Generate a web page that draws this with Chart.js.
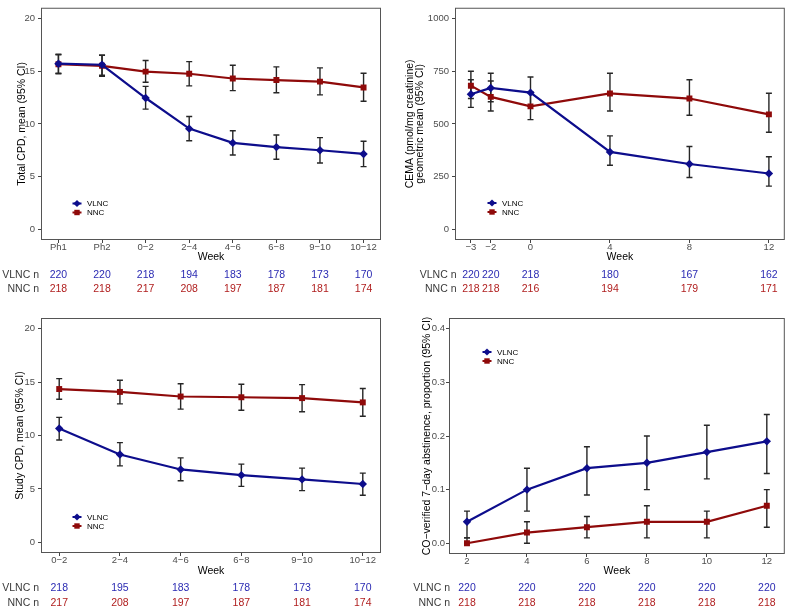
<!DOCTYPE html>
<html>
<head>
<meta charset="utf-8">
<script src="https://cdn.jsdelivr.net/npm/chart.js@4.4.1/dist/chart.umd.min.js"></script>
<style>
  html, body { margin: 0; padding: 0; background: #fff; }
  #wrap { position: relative; width: 789px; height: 613px; background: #fff; }
  canvas { position: absolute; }
</style>
</head>
<body>
<div id="wrap">
  <canvas id="c1" width="395" height="310" style="left:0;top:0;width:395px;height:310px"></canvas>
  <canvas id="c2" width="394" height="310" style="left:395px;top:0;width:394px;height:310px"></canvas>
  <canvas id="c3" width="395" height="303" style="left:0;top:310px;width:395px;height:303px"></canvas>
  <canvas id="c4" width="394" height="303" style="left:395px;top:310px;width:394px;height:303px"></canvas>
</div>
<script>
// ---------- Panel 1: Total CPD ----------
const totalWeeks = ['Ph1', 'Ph2', '0\u22122', '2\u22124', '4\u22126', '6\u22128', '9\u221210', '10\u221212'];
const totalVlnc   = [15.7, 15.6, 12.45, 9.55, 8.2, 7.8, 7.5, 7.15];
const totalVlncLo = [14.8, 14.6, 11.4, 8.4, 7.05, 6.65, 6.3, 5.95];
const totalVlncHi = [16.6, 16.5, 13.55, 10.7, 9.35, 8.95, 8.7, 8.35];
const totalNnc    = [15.65, 15.5, 14.95, 14.75, 14.3, 14.15, 14.0, 13.45];
const totalNncLo  = [14.75, 14.5, 13.95, 13.6, 13.15, 12.95, 12.75, 12.15];
const totalNncHi  = [16.55, 16.5, 16.0, 15.9, 15.55, 15.4, 15.3, 14.8];
const totalNVlnc  = [220, 220, 218, 194, 183, 178, 173, 170];
const totalNNnc   = [218, 218, 217, 208, 197, 187, 181, 174];
const cpdTicks    = [0, 5, 10, 15, 20];

// ---------- Panel 2: CEMA ----------
const cemaWeeks  = [-3, -2, 0, 4, 8, 12];
const cemaVlnc   = [640, 670, 648, 367, 310, 265];
const cemaVlncLo = [578, 605, 583, 304, 246, 205];
const cemaVlncHi = [709, 740, 722, 443, 393, 344];
const cemaNnc    = [681, 628, 583, 644, 620, 545];
const cemaNncLo  = [620, 561, 520, 561, 541, 460];
const cemaNncHi  = [749, 703, 652, 740, 709, 645];
const cemaNVlnc  = [220, 220, 218, 180, 167, 162];
const cemaNNnc   = [218, 218, 216, 194, 179, 171];
const cemaTicks  = [0, 250, 500, 750, 1000];

// ---------- Panel 3: Study CPD ----------
const studyWeeks  = ['0\u22122', '2\u22124', '4\u22126', '6\u22128', '9\u221210', '10\u221212'];
const studyVlnc   = [10.65, 8.22, 6.82, 6.29, 5.89, 5.46];
const studyVlncLo = [9.58, 7.16, 5.77, 5.24, 4.84, 4.4];
const studyVlncHi = [11.7, 9.33, 7.91, 7.32, 6.95, 6.48];
const studyNnc    = [14.35, 14.08, 13.65, 13.58, 13.5, 13.1];
const studyNncLo  = [13.4, 12.96, 12.47, 12.37, 12.22, 11.8];
const studyNncHi  = [15.32, 15.17, 14.85, 14.8, 14.76, 14.4];
const studyNVlnc  = [218, 195, 183, 178, 173, 170];
const studyNNnc   = [217, 208, 197, 187, 181, 174];

// ---------- Panel 4: CO-verified abstinence ----------
const absWeeks  = [2, 4, 6, 8, 10, 12];
const absVlnc   = [0.04, 0.10, 0.14, 0.15, 0.17, 0.19];
const absVlncLo = [0.01, 0.06, 0.09, 0.10, 0.12, 0.13];
const absVlncHi = [0.06, 0.14, 0.18, 0.20, 0.22, 0.24];
const absNnc    = [0.00, 0.02, 0.03, 0.04, 0.04, 0.07];
const absNncLo  = [0.00, 0.00, 0.01, 0.01, 0.01, 0.03];
const absNncHi  = [0.01, 0.04, 0.05, 0.07, 0.06, 0.10];
const absNVlnc  = [220, 220, 220, 220, 220, 220];
const absNNnc   = [218, 218, 218, 218, 218, 218];
const absTicks  = [0, 0.1, 0.2, 0.3, 0.4];

// ---------- styling ----------
const BLUE = '#0d0d8c';
const RED = '#8f0a0a';
const BLUE_TXT = '#2b2bb3';
const RED_TXT = '#b01e1e';
const FONT = '"Liberation Sans", Arial, sans-serif';
Chart.defaults.font.family = FONT;

function drawMarker(ctx, style, x, y, r, color) {
  ctx.save();
  ctx.fillStyle = color;
  ctx.beginPath();
  if (style === 'rectRot') {
    ctx.moveTo(x, y - r); ctx.lineTo(x + r, y); ctx.lineTo(x, y + r); ctx.lineTo(x - r, y);
  } else {
    ctx.rect(x - r * 0.75, y - r * 0.75, r * 1.5, r * 1.5);
  }
  ctx.closePath();
  ctx.fill();
  ctx.restore();
}

function makePanel(id, o) {
  const canvas = document.getElementById(id);
  const W = canvas.width, H = canvas.height;
  const ds = (label, vals, lo, hi, color, style, radius) => ({
    label,
    data: o.xs.map((x, i) => ({ x: x, y: vals[i], lo: lo[i], hi: hi[i] })),
    borderColor: color, backgroundColor: color, borderWidth: 2.2,
    pointStyle: style, pointRadius: radius, pointBorderWidth: 0,
    pointHoverRadius: radius, tension: 0, fill: false
  });

  const panelPlugin = {
    id: 'panelPlugin' + id,
    beforeDatasetsDraw(chart) {
      const ctx = chart.ctx, xs = chart.scales.x, ys = chart.scales.y;
      ctx.save();
      ctx.strokeStyle = '#262626';
      ctx.lineWidth = 1.4;
      chart.data.datasets.forEach(d => {
        d.data.forEach(p => {
          const px = xs.getPixelForValue(p.x);
          const yl = ys.getPixelForValue(p.lo), yh = ys.getPixelForValue(p.hi);
          ctx.beginPath();
          ctx.moveTo(px, yl); ctx.lineTo(px, yh);
          ctx.moveTo(px - 3, yl); ctx.lineTo(px + 3, yl);
          ctx.moveTo(px - 3, yh); ctx.lineTo(px + 3, yh);
          ctx.stroke();
        });
      });
      ctx.restore();
    },
    afterDraw(chart) {
      const ctx = chart.ctx, a = chart.chartArea, xs = chart.scales.x;
      ctx.save();
      // panel border
      ctx.strokeStyle = '#555';
      ctx.lineWidth = 1;
      ctx.strokeRect(a.left + 0.5, a.top + 0.5, a.right - a.left - 1, a.bottom - a.top - 1);
      // x title
      ctx.fillStyle = '#000';
      ctx.font = '10.5px ' + FONT;
      ctx.textAlign = 'center';
      ctx.textBaseline = 'middle';
      ctx.fillText('Week', (a.left + a.right) / 2, o.weekY);
      // y title
      ctx.save();
      ctx.translate(o.yTitleX, (a.top + a.bottom) / 2);
      ctx.rotate(-Math.PI / 2);
      const lines = o.yTitle;
      lines.forEach((t, i) => {
        ctx.fillText(t, 0, (i - (lines.length - 1) / 2) * 10.5);
      });
      ctx.restore();
      // legend
      ctx.font = '8px ' + FONT;
      ctx.textAlign = 'left';
      const lg = o.legend;
      [['VLNC', BLUE, 'rectRot', 3.6], ['NNC', RED, 'rect', 3.6]].forEach((e, i) => {
        const y = lg.y + i * 9;
        ctx.strokeStyle = e[1];
        ctx.lineWidth = 2;
        ctx.beginPath(); ctx.moveTo(lg.x - 4.5, y); ctx.lineTo(lg.x + 4.5, y); ctx.stroke();
        drawMarker(ctx, e[2], lg.x, y, e[3], e[1]);
        ctx.fillStyle = '#000';
        ctx.fillText(e[0], lg.x + 10, y + 0.5);
      });
      // n table
      ctx.font = '10.5px ' + FONT;
      ctx.textAlign = 'right';
      ctx.fillStyle = '#3a3a3a';
      ctx.fillText('VLNC n', o.nLabelX, o.nY[0]);
      ctx.fillText('NNC n', o.nLabelX, o.nY[1]);
      ctx.textAlign = 'center';
      o.xs.forEach((x, i) => {
        const px = xs.getPixelForValue(x);
        ctx.fillStyle = BLUE_TXT;
        ctx.fillText(String(o.nV[i]), px, o.nY[0]);
        ctx.fillStyle = RED_TXT;
        ctx.fillText(String(o.nN[i]), px, o.nY[1]);
      });
      ctx.restore();
    }
  };

  return new Chart(canvas, {
    type: 'line',
    data: {
      datasets: [
        ds('VLNC', o.v, o.vLo, o.vHi, BLUE, 'rectRot', 4.2),
        ds('NNC', o.n, o.nLo, o.nHi, RED, 'rect', 4.2)
      ]
    },
    options: {
      responsive: false,
      animation: false,
      devicePixelRatio: 1,
      events: [],
      layout: { padding: { left: 0, top: o.area.top, right: W - o.area.right, bottom: 0 } },
      plugins: { legend: { display: false }, tooltip: { enabled: false }, title: { display: false } },
      scales: {
        x: {
          type: 'linear',
          min: o.xMin, max: o.xMax,
          afterBuildTicks: s => { s.ticks = o.xs.map(v => ({ value: v })); },
          afterFit: s => { s.height = H - o.area.bottom; },
          ticks: {
            autoSkip: false, maxRotation: 0, minRotation: 0,
            padding: 0,
            color: '#4d4d4d',
            font: { size: 9.5, lineHeight: 1 },
            callback: (v, i) => o.xLabels[i]
          },
          grid: { display: true, drawOnChartArea: false, drawTicks: true, tickLength: 3, color: '#444', tickColor: '#444', tickWidth: 1 },
          border: { display: false }
        },
        y: {
          type: 'linear',
          min: o.yMin, max: o.yMax,
          afterBuildTicks: s => { s.ticks = o.yTicks.map(v => ({ value: v })); },
          afterFit: s => { s.width = o.area.left; },
          ticks: {
            autoSkip: false,
            padding: o.yPad,
            color: '#4d4d4d',
            font: { size: 9.5, lineHeight: 1 },
            callback: v => o.yFmt(v)
          },
          grid: { display: true, drawOnChartArea: false, drawTicks: true, tickLength: 3, color: '#444', tickColor: '#444', tickWidth: 1 },
          border: { display: false }
        }
      }
    },
    plugins: [panelPlugin]
  });
}

const idx = arr => arr.map((_, i) => i);

makePanel('c1', {
  xs: idx(totalWeeks), xLabels: totalWeeks, xMin: -0.4, xMax: totalWeeks.length - 1 + 0.4,
  yMin: -1, yMax: 21, yTicks: cpdTicks, yFmt: v => String(v), yPad: 3,
  v: totalVlnc, vLo: totalVlncLo, vHi: totalVlncHi,
  n: totalNnc, nLo: totalNncLo, nHi: totalNncHi,
  nV: totalNVlnc, nN: totalNNnc,
  area: { left: 41, top: 3, right: 381, bottom: 240 },
  weekY: 257.5, yTitleX: 22, yTitle: ['Total CPD, mean (95% CI)'],
  legend: { x: 77, y: 203.5 },
  nLabelX: 39, nY: [275, 289.5]
});

makePanel('c2', {
  xs: cemaWeeks, xLabels: cemaWeeks.map(v => v < 0 ? '\u2212' + Math.abs(v) : String(v)), xMin: -3.8, xMax: 12.8,
  yMin: -50, yMax: 1050, yTicks: cemaTicks, yFmt: v => String(v), yPad: 3,
  v: cemaVlnc, vLo: cemaVlncLo, vHi: cemaVlncHi,
  n: cemaNnc, nLo: cemaNncLo, nHi: cemaNncHi,
  nV: cemaNVlnc, nN: cemaNNnc,
  area: { left: 60, top: 3, right: 391, bottom: 240 },
  weekY: 257.5, yTitleX: 20, yTitle: ['CEMA (pmol/mg creatinine)', 'geometric mean (95% CI)'],
  legend: { x: 97, y: 203 },
  nLabelX: 61.5, nY: [275, 289.5]
});

makePanel('c3', {
  xs: idx(studyWeeks), xLabels: studyWeeks, xMin: -0.3, xMax: studyWeeks.length - 1 + 0.3,
  yMin: -1, yMax: 21, yTicks: cpdTicks, yFmt: v => String(v), yPad: 3,
  v: studyVlnc, vLo: studyVlncLo, vHi: studyVlncHi,
  n: studyNnc, nLo: studyNncLo, nHi: studyNncHi,
  nV: studyNVlnc, nN: studyNNnc,
  area: { left: 41, top: 8, right: 381, bottom: 243 },
  weekY: 261, yTitleX: 20, yTitle: ['Study CPD, mean (95% CI)'],
  legend: { x: 77, y: 207 },
  nLabelX: 39, nY: [278.5, 293.5]
});

makePanel('c4', {
  xs: absWeeks, xLabels: absWeeks.map(String), xMin: 1.4, xMax: 12.6,
  yMin: -0.02, yMax: 0.42, yTicks: absTicks, yFmt: v => v.toFixed(1), yPad: 1,
  v: absVlnc, vLo: absVlncLo, vHi: absVlncHi,
  n: absNnc, nLo: absNncLo, nHi: absNncHi,
  nV: absNVlnc, nN: absNNnc,
  area: { left: 54, top: 8, right: 392, bottom: 244 },
  weekY: 261, yTitleX: 32, yTitle: ['CO\u2212verified 7\u2212day abstinence, proportion (95% CI)'],
  legend: { x: 92, y: 42 },
  nLabelX: 55, nY: [278.5, 293.5]
});
</script>
</body>
</html>
